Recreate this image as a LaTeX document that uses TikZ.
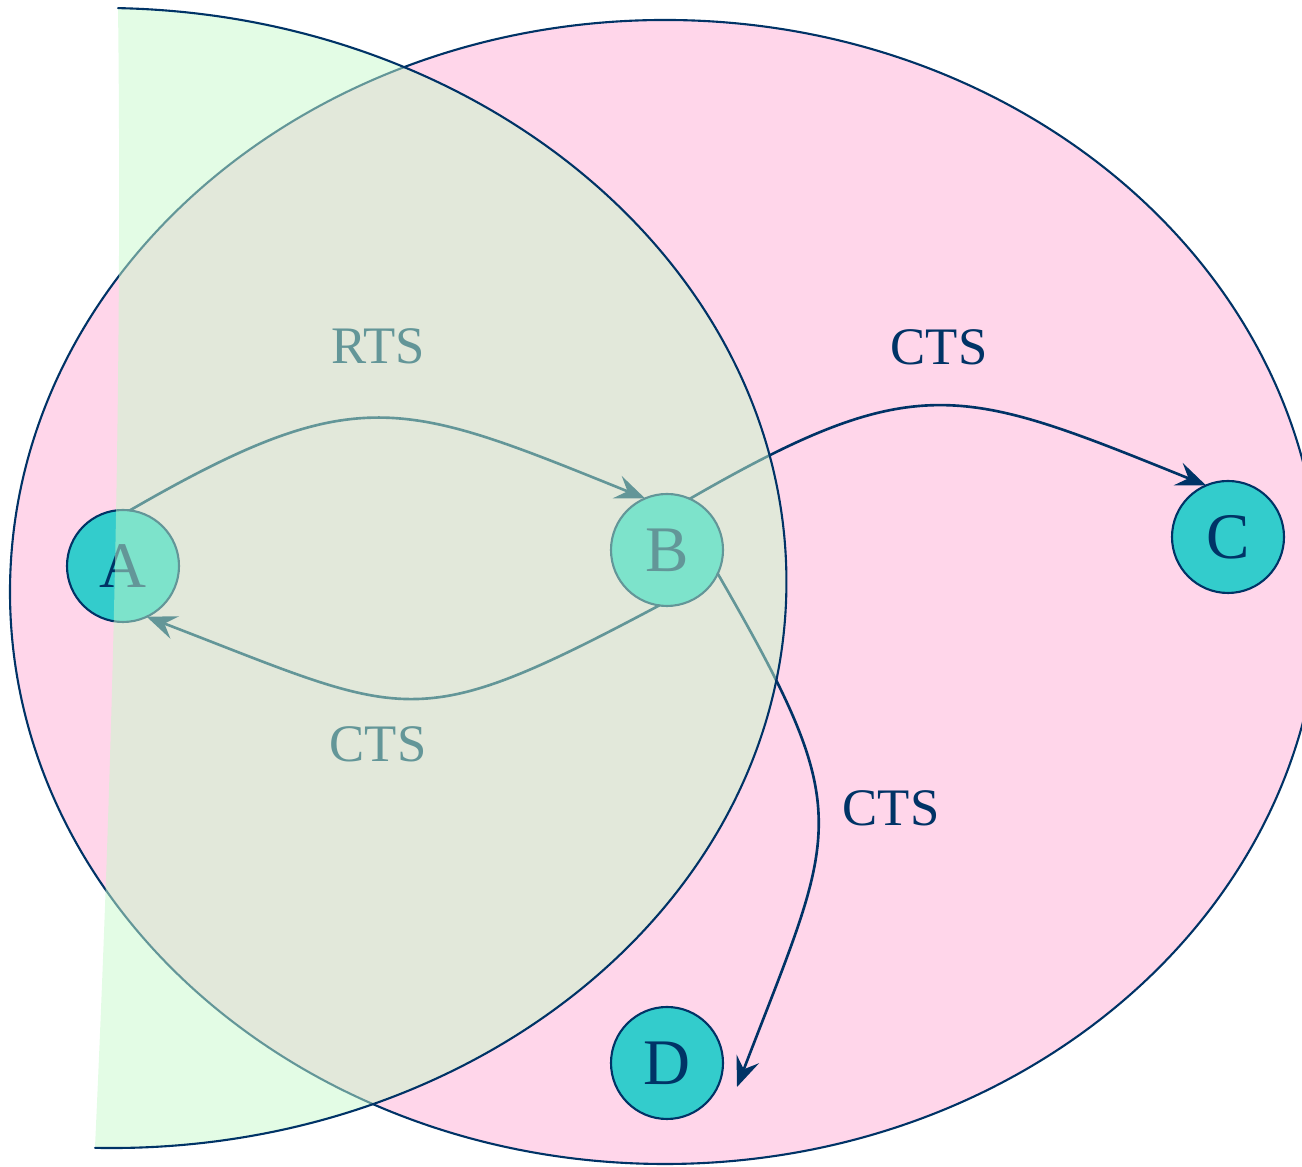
\documentclass[tikz,border=0pt]{standalone}
\usepackage{fontspec}
\setmainfont{Liberation Serif}
\usetikzlibrary{arrows.meta}
\definecolor{navy}{RGB}{0,51,102}
\definecolor{rose}{RGB}{255,214,234}
\definecolor{aqua}{RGB}{51,204,204}
\definecolor{veil}{RGB}{199,250,203}
\begin{document}
\begin{tikzpicture}[line cap=round,line join=round,>={Stealth[length=3mm,width=2.4mm,inset=1.1mm]},
  station/.style={circle,draw=navy,line width=0.6pt,fill=aqua,text=navy,minimum size=1.12cm,inner sep=0pt,outer sep=0pt,font=\fontsize{18.5}{22}\selectfont},
  msg/.style={text=navy,font=\fontsize{15}{18}\selectfont,inner sep=1pt},
  link/.style={->,draw=navy,line width=0.75pt,looseness=1.3}]
  \useasboundingbox (0,0) rectangle (13.02,11.67);
  \clip (0,0) rectangle (13.02,11.67);
  \filldraw[fill=rose,draw=navy,line width=0.6pt] (6.65,5.75) ellipse [x radius=6.55,y radius=5.72];
  \foreach \n/\x/\y in {A/1.23/6.01,B/6.67/6.17,C/12.28/6.30,D/6.67/1.04}{
    \node[station] (\n) at (\x,\y) {\n};
  }
  \coordinate (Dtip) at (7.37,0.80);
  \draw[link] (A.83) to[out=30,in=158] (B.113);
  \draw[link,looseness=1.4] (B.262) to[out=208,in=-21] (A.-65);
  \draw[link] (B.66) to[out=30,in=158] (C.113);
  \draw[link,looseness=1.4] (B.-25) to[out=-60,in=69] (Dtip);
  \node[msg] (rts) at (3.78,8.21) {RTS};
  \node[msg] (ctsC) at (9.39,8.20) {CTS};
  \node[msg] (ctsA) at (3.78,4.23) {CTS};
  \node[msg] (ctsD) at (8.91,3.59) {CTS};
  \begin{scope}[shift={(1.065,5.89)},rotate=-1.16]
    \fill[veil,fill opacity=0.5] (0,5.70) arc[start angle=90,end angle=-90,x radius=6.80,y radius=5.70] .. controls (0.10,-1.8) and (0.12,2.0) .. cycle;
    \draw[navy,line width=0.6pt] (0,5.70) arc[start angle=90,end angle=-90,x radius=6.80,y radius=5.70];
  \end{scope}
\end{tikzpicture}
\end{document}
